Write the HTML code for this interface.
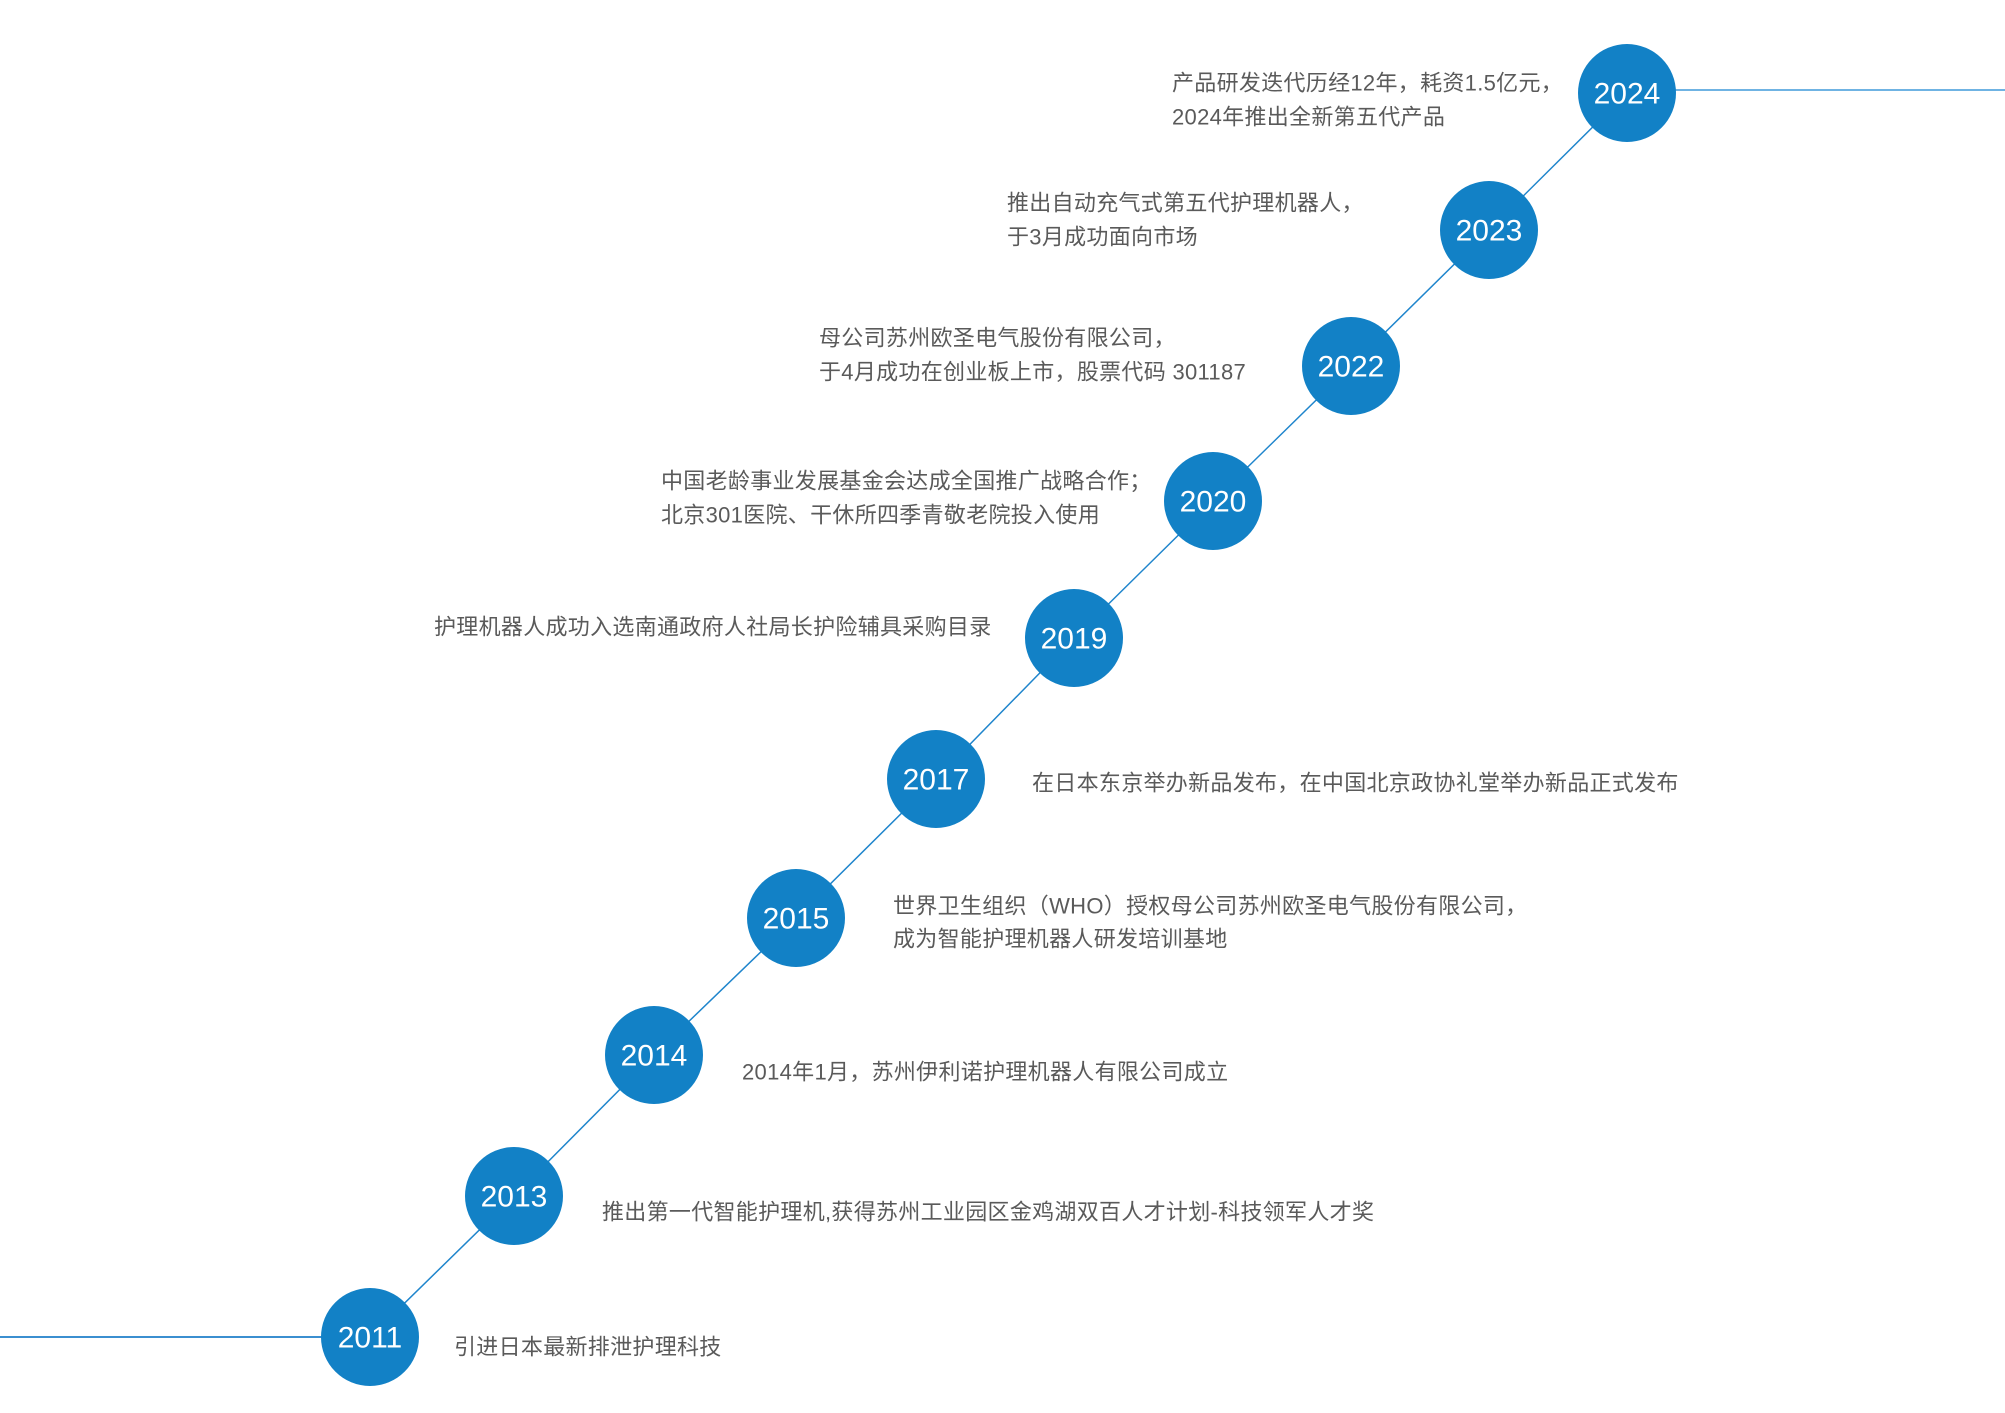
<!DOCTYPE html>
<html><head><meta charset="utf-8"><style>
html,body{margin:0;padding:0;background:#fff;}
svg{display:block;}
.t{font-family:"Liberation Sans","Noto Sans CJK SC",sans-serif;font-size:22px;letter-spacing:0.3px;fill:#5a5a5a;dominant-baseline:central;}
.y{font-family:"Liberation Sans",sans-serif;font-size:30px;fill:#fff;text-anchor:middle;dominant-baseline:central;}
</style></head><body>
<svg width="2005" height="1413" viewBox="0 0 2005 1413" xmlns="http://www.w3.org/2000/svg">
<line x1="1627" y1="90" x2="2005" y2="90" stroke="#6fb3e3" stroke-width="2"/>
<line x1="0" y1="1337" x2="370" y2="1337" stroke="#3b8fd0" stroke-width="2"/>
<polyline points="1627,93 1489,230 1351,366 1213,501 1074,638 936,779 796,918 654,1055 514,1196 370,1337" fill="none" stroke="#1f85cc" stroke-width="1.5"/>
<g fill="#1281c6">
<circle cx="1627" cy="93" r="49"/>
<circle cx="1489" cy="230" r="49"/>
<circle cx="1351" cy="366" r="49"/>
<circle cx="1213" cy="501" r="49"/>
<circle cx="1074" cy="638" r="49"/>
<circle cx="936" cy="779" r="49"/>
<circle cx="796" cy="918" r="49"/>
<circle cx="654" cy="1055" r="49"/>
<circle cx="514" cy="1196" r="49"/>
<circle cx="370" cy="1337" r="49"/>
</g>
<text class="y" x="1627" y="94">2024</text>
<text class="y" x="1489" y="231">2023</text>
<text class="y" x="1351" y="367">2022</text>
<text class="y" x="1213" y="502">2020</text>
<text class="y" x="1074" y="639">2019</text>
<text class="y" x="936" y="780">2017</text>
<text class="y" x="796" y="919">2015</text>
<text class="y" x="654" y="1056">2014</text>
<text class="y" x="514" y="1197">2013</text>
<text class="y" x="370" y="1338">2011</text>
<text class="t" x="1172" y="83">产品研发迭代历经12年，耗资1.5亿元，</text>
<text class="t" x="1172" y="117">2024年推出全新第五代产品</text>
<text class="t" x="1007" y="203">推出自动充气式第五代护理机器人，</text>
<text class="t" x="1007" y="237">于3月成功面向市场</text>
<text class="t" x="819" y="338">母公司苏州欧圣电气股份有限公司，</text>
<text class="t" x="819" y="372">于4月成功在创业板上市，股票代码 301187</text>
<text class="t" x="661" y="481">中国老龄事业发展基金会达成全国推广战略合作；</text>
<text class="t" x="661" y="515">北京301医院、干休所四季青敬老院投入使用</text>
<text class="t" x="434" y="627">护理机器人成功入选南通政府人社局长护险辅具采购目录</text>
<text class="t" x="1032" y="783">在日本东京举办新品发布，在中国北京政协礼堂举办新品正式发布</text>
<text class="t" x="893" y="906">世界卫生组织（WHO）授权母公司苏州欧圣电气股份有限公司，</text>
<text class="t" x="893" y="939">成为智能护理机器人研发培训基地</text>
<text class="t" x="742" y="1072">2014年1月，苏州伊利诺护理机器人有限公司成立</text>
<text class="t" x="602" y="1212">推出第一代智能护理机,获得苏州工业园区金鸡湖双百人才计划-科技领军人才奖</text>
<text class="t" x="454" y="1347">引进日本最新排泄护理科技</text>
</svg>
</body></html>
